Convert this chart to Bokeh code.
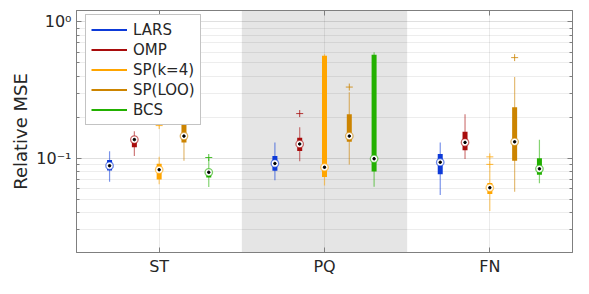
import math
from bokeh.plotting import figure
from bokeh.models import (Range1d, FixedTicker, LogAxis, LinearAxis, BoxAnnotation,
                          Legend, LegendItem, CustomJSTickFormatter, ColumnDataSource)
from bokeh.embed import file_html
from bokeh.resources import INLINE

# ---------------- data ----------------
groups = ["ST", "PQ", "FN"]
methods = ["LARS", "OMP", "SP(k=4)", "SP(LOO)", "BCS"]
colors = ["#0d3ad8", "#a80c0c", "#ffa500", "#cc8400", "#22b000"]

# per method: values for ST, PQ, FN
whisker_lo = [[0.0676, 0.0694, 0.0541],
              [0.1044, 0.0953, 0.0989],
              [0.0648, 0.0634, 0.0413],
              [0.0964, 0.0905, 0.0571],
              [0.0618, 0.0622, 0.0659]]
q1 = [[0.0815, 0.0813, 0.0767],
      [0.1210, 0.1136, 0.1148],
      [0.0702, 0.0732, 0.0550],
      [0.1310, 0.1325, 0.0964],
      [0.0725, 0.0804, 0.0760]]
median = [[0.0885, 0.0919, 0.0938],
          [0.1374, 0.1276, 0.1310],
          [0.0827, 0.0862, 0.0611],
          [0.1457, 0.1457, 0.1324],
          [0.0792, 0.0995, 0.0840]]
q3 = [[0.0975, 0.1044, 0.1077],
      [0.1440, 0.1420, 0.1570],
      [0.0914, 0.5650, 0.0662],
      [0.1880, 0.2110, 0.2370],
      [0.0813, 0.5740, 0.1005]]
whisker_hi = [[0.1130, 0.1310, 0.1310],
              [0.1580, 0.1690, 0.2110],
              [0.1030, 0.5800, 0.0857],
              [0.2500, 0.3050, 0.3940],
              [0.1000, 0.6000, 0.1368]]
# outliers: (method index, group index, value)
outlier_method = [1, 2, 2, 2, 3, 3, 4]
outlier_group = [1, 0, 2, 2, 1, 2, 0]
outlier_value = [0.213, 0.174, 0.1027, 0.0905, 0.333, 0.547, 0.1016]

offsets = [-0.3, -0.15, 0.0, 0.15, 0.3]
FONT = "DejaVu Sans"
AX = "#7f7f7f"
TXT = "#262626"

p = figure(width=573, height=278, x_range=Range1d(0.5, 3.5), y_range=Range1d(0.0205, 1.21),
           y_axis_type="log", output_backend="svg", toolbar_location=None,
           min_border_left=76, min_border_right=1, min_border_top=10, min_border_bottom=22)
p.background_fill_color = "white"
p.outline_line_color = AX

# shaded PQ region
p.add_layout(BoxAnnotation(left=1.5, right=2.5, fill_color="#e5e5e5", fill_alpha=1.0,
                           line_alpha=0, level="image"))

minor = []
for e in (-2, -1, 0):
    for k in range(2, 10):
        minor.append(k * 10.0 ** e)
yticker = FixedTicker(ticks=[0.1, 1.0], minor_ticks=minor)
xticker = FixedTicker(ticks=[1, 2, 3])

yax = p.yaxis[0]
yax.ticker = yticker
yax.formatter = CustomJSTickFormatter(code="return tick > 0.5 ? '10\u2070' : '10\u207b\u00b9';")
yax.axis_label = "Relative MSE"
yax.axis_label_text_font = FONT
yax.axis_label_text_font_size = "18px"
yax.axis_label_text_font_style = "normal"
yax.axis_label_text_color = TXT
yax.axis_label_standoff = 2
yax.major_label_text_font = FONT
yax.major_label_text_font_size = "16px"
yax.major_label_text_color = TXT
yax.major_label_standoff = 5

xax = p.xaxis[0]
xax.ticker = xticker
xax.major_label_overrides = {1: groups[0], 2: groups[1], 3: groups[2]}
xax.major_label_text_font = FONT
xax.major_label_text_font_size = "16px"
xax.major_label_text_color = TXT
xax.major_label_standoff = 4

for ax in (xax, yax):
    ax.axis_line_color = AX
    ax.major_tick_line_color = AX
    ax.minor_tick_line_color = AX
    ax.major_tick_in = 5
    ax.major_tick_out = 0
    ax.minor_tick_in = 3
    ax.minor_tick_out = 0

blank = CustomJSTickFormatter(code="return '';")
rax = LogAxis(ticker=yticker, formatter=blank, major_tick_in=5, major_tick_out=0,
              minor_tick_in=3, minor_tick_out=0, major_label_standoff=0,
              major_label_text_font_size="1px", axis_line_color=AX,
              major_tick_line_color=AX, minor_tick_line_color=AX)
p.add_layout(rax, "right")
tax = LinearAxis(ticker=xticker, formatter=blank, major_tick_in=5, major_tick_out=0,
                 minor_tick_in=0, minor_tick_out=0, major_label_standoff=0,
                 major_label_text_font_size="1px", axis_line_color=AX,
                 major_tick_line_color=AX)
p.add_layout(tax, "above")

p.ygrid.grid_line_color = "black"
p.ygrid.grid_line_alpha = 0.12
p.ygrid.minor_grid_line_color = "black"
p.ygrid.minor_grid_line_alpha = 0.07
p.xgrid.grid_line_color = "black"
p.xgrid.grid_line_alpha = 0.08

items = []
for mi, (m, c) in enumerate(zip(methods, colors)):
    xs = [g + 1 + offsets[mi] for g in range(len(groups))]
    src = ColumnDataSource(dict(x=xs, lo=whisker_lo[mi], q1=q1[mi], med=median[mi],
                                q3=q3[mi], hi=whisker_hi[mi]))
    p.segment(x0="x", y0="lo", x1="x", y1="hi", source=src, line_color=c,
              line_width=1.2, line_alpha=0.55)
    p.segment(x0="x", y0="q1", x1="x", y1="q3", source=src, line_color=c,
              line_width=5, line_cap="butt")
    p.scatter(x="x", y="med", source=src, marker="circle", size=7.5, fill_color="white",
              line_color=c, line_alpha=0.6, line_width=1.3)
    p.scatter(x="x", y="med", source=src, marker="circle", size=2.5, fill_color="black",
              line_color="black")
    ox = [outlier_group[i] + 1 + offsets[mi] for i in range(len(outlier_value)) if outlier_method[i] == mi]
    oy = [outlier_value[i] for i in range(len(outlier_value)) if outlier_method[i] == mi]
    if ox:
        p.scatter(x=ox, y=oy, marker="cross", size=7, line_color=c, line_width=1, line_alpha=0.8)
    r = p.line(x=[float("nan")], y=[float("nan")], line_color=c, line_width=2)
    items.append(LegendItem(label=m, renderers=[r]))

legend = Legend(items=items, location=(9, 127), label_text_font=FONT,
                label_text_font_size="15px", label_text_color=TXT, glyph_width=36,
                glyph_height=19, label_height=19, spacing=1, padding=5, label_standoff=6,
                border_line_color="#888888", background_fill_color="white",
                background_fill_alpha=1.0)
p.add_layout(legend)

open("out.html", "w").write(file_html(p, INLINE))
